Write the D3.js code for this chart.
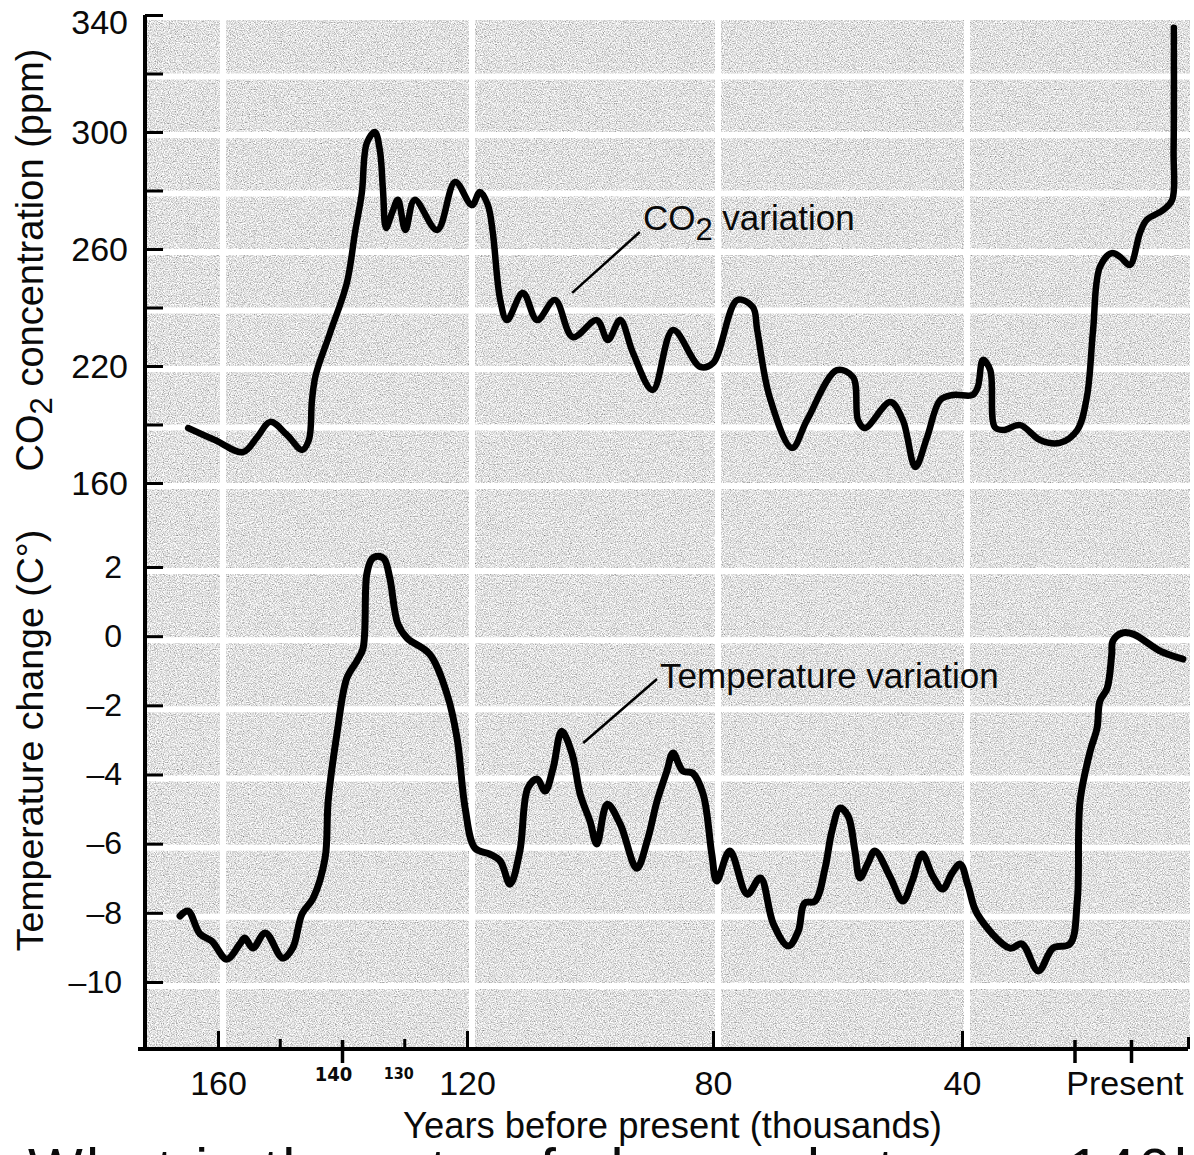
<!DOCTYPE html>
<html>
<head>
<meta charset="utf-8">
<script src="https://cdn.jsdelivr.net/npm/d3@7"></script>
<style>
html, body { margin: 0; padding: 0; background: #ffffff; }
svg { display: block; }
text { font-family: "Liberation Sans", Arial, Helvetica, sans-serif; fill: #0a0a0a; }
</style>
</head>
<body>
<svg id="chart" width="1194" height="1155"></svg>
<script>
// ---------- DATA ----------
// Years before present (thousands) and CO2 (ppm)
const co2Years = [
  164.8, 160.5, 156.0, 153.7, 151.6, 148.9, 146.5, 145.4, 144.9, 144.3,
  142.0, 139.3, 138.0, 136.9, 136.1, 134.8, 134.0, 133.5, 133.0, 132.0,
  131.1, 129.9, 128.4, 124.8, 121.9, 119.2, 117.9, 116.6, 115.8, 114.6,
  113.5, 110.9, 108.6, 105.7, 102.8, 98.9, 97.1, 95.1, 93.0, 89.8,
  86.5, 82.1, 80.0, 76.1, 73.6, 72.9, 70.9, 67.3, 64.9, 60.1,
  57.5, 56.7, 55.6, 51.5, 49.5, 47.5, 45.6, 43.5, 41.4, 38.1,
  37.2, 36.3, 35.0, 34.2, 32.7, 29.7, 26.2, 22.7, 19.6, 17.9,
  16.8, 15.6, 13.5, 12.0, 10.3, 8.5, 7.3, 4.4, 2.8, 2.55,
  2.5
];
const co2Values = [
  198.8, 194.7, 190.6, 195.7, 200.9, 196.4, 191.3, 194.7, 208.4, 216.9,
  231.3, 248.4, 265.5, 279.1, 296.2, 300.0, 293.8, 280.2, 267.2, 272.6,
  276.8, 266.5, 276.8, 266.5, 282.9, 275.0, 279.5, 275.0, 265.5, 242.6,
  235.7, 245.0, 235.7, 242.6, 229.9, 235.7, 228.9, 235.7, 224.4, 211.8,
  232.3, 219.7, 221.0, 242.6, 240.2, 232.3, 209.4, 192.0, 201.5, 218.6,
  216.2, 201.5, 198.8, 207.7, 201.5, 185.5, 195.7, 208.4, 210.1, 210.1,
  212.8, 222.1, 218.6, 199.1, 198.1, 199.8, 194.7, 193.7, 198.1, 209.4,
  232.3, 253.8, 258.6, 257.3, 254.5, 265.5, 270.0, 273.3, 276.8, 293.8,
  335.6
];
// Years before present (thousands) and temperature change (C)
const tempYears = [
  166.1, 164.8, 162.9, 161.0, 158.6, 156.5, 155.7, 154.4, 152.4, 149.6,
  148.0, 146.5, 144.7, 142.8, 142.3, 140.9, 139.3, 137.7, 136.7, 136.1,
  135.3, 134.3, 133.3, 132.4, 131.1, 129.6, 126.0, 123.2, 121.6, 120.3,
  118.7, 116.3, 114.6, 113.0, 111.4, 110.1, 108.6, 107.3, 106.0, 104.6,
  102.9, 101.6, 100.0, 98.9, 97.2, 95.1, 92.4, 90.7, 89.1, 87.5,
  86.5, 84.9, 83.3, 81.6, 80.2, 79.4, 77.3, 74.5, 72.4, 70.3,
  67.9, 66.3, 65.3, 63.6, 62.0, 60.9, 59.6, 58.3, 57.2, 56.4,
  55.1, 54.0, 51.6, 49.5, 48.0, 46.4, 44.7, 43.1, 41.6, 40.3,
  38.9, 37.3, 31.5, 29.4, 26.5, 23.9, 20.9, 19.6, 19.1, 17.3,
  16.1, 15.6, 14.3, 13.5, 13.3, 11.7, 9.7, 4.9, 0.9
];
const tempValues = [
  -8.09, -7.95, -8.61, -8.82, -9.34, -8.90, -8.73, -9.02, -8.58, -9.31,
  -9.02, -8.03, -7.57, -6.42, -4.77, -2.83, -1.21, -0.72, -0.35, 1.79,
  2.23, 2.31, 2.23, 1.68, 0.35, -0.06, -0.52, -1.68, -2.95, -4.97,
  -6.13, -6.30, -6.50, -7.17, -6.21, -4.39, -4.13, -4.48, -3.82, -2.75,
  -3.41, -4.57, -5.35, -6.01, -4.86, -5.43, -6.71, -5.92, -4.77, -3.90,
  -3.38, -3.90, -3.96, -4.57, -6.30, -7.08, -6.21, -7.46, -6.99, -8.32,
  -8.96, -8.53, -7.72, -7.66, -6.71, -5.64, -4.97, -5.20, -6.21, -6.99,
  -6.56, -6.21, -6.94, -7.66, -7.08, -6.30, -6.94, -7.31, -6.85, -6.59,
  -7.23, -8.03, -9.02, -8.90, -9.68, -9.02, -8.90, -7.66, -4.77, -3.32,
  -2.66, -1.88, -1.50, -0.52, -0.14, 0.09, 0.06, -0.43, -0.66
];

// Axis ticks and labels
const xTickValues = [160, 120, 80, 40, 0];
const xTickLabels = ["160", "120", "80", "40", "Present"];
const xMinorTicks = [150, 130];
const xCrossTicks = [140, 20, 10];
const handNoteYears = [140, 130];
const handNoteLabels = ["140", "130"];
const co2TickValues = [340, 320, 300, 280, 260, 240, 220, 200, 180];
const co2LabelValues = [340, 300, 260, 220, 180];
const co2Labels = ["340", "300", "260", "220", "160"];
const tempTickValues = [2, 0, -2, -4, -6, -8, -10];
const tempLabels = ["2", "0", "\u20132", "\u20134", "\u20136", "\u20138", "\u201310"];

// Annotation anchors in data units
const co2Note = { text: "CO", sub: "2", rest: " variation", yr: 91.4, v: 266.5,
                  lineFrom: [102.9, 245.0], lineTo: [91.9, 265.8] };
const tempNote = { text: "Temperature variation", yr: 88.6, v: -1.50,
                   lineFrom: [101.1, -3.09], lineTo: [89.1, -1.24] };

// ---------- SCALES ----------
const svg = d3.select("#chart");
const x = d3.scaleLinear().domain(xTickValues).range([218, 467, 713, 962, 1188]);
const yCO2 = d3.scaleLinear().domain([340, 180]).range([15, 483]);
const yT = d3.scaleLinear().domain([2, -10]).range([567, 982]);

const axisX = 145;
const axisY = 1049;
const plotRight = 1190;
const FONT = "Liberation Sans, Arial, sans-serif";

// ---------- BACKGROUND (grainy gray with white grid) ----------
const defs = svg.append("defs");
const f = defs.append("filter").attr("id", "grain")
  .attr("x", 0).attr("y", 0).attr("width", 1).attr("height", 1)
  .attr("filterUnits", "objectBoundingBox");
f.append("feTurbulence").attr("type", "fractalNoise")
  .attr("baseFrequency", 0.85).attr("numOctaves", 2).attr("seed", 7).attr("result", "n");
f.append("feColorMatrix").attr("type", "matrix")
  .attr("values", "1.4 0 0 0 0.05  1.4 0 0 0 0.05  1.4 0 0 0 0.05  0 0 0 0 1");

const plotTop = yCO2(340) + 5;
svg.append("rect")
  .attr("x", axisX + 2).attr("y", plotTop)
  .attr("width", plotRight - axisX - 2).attr("height", axisY - 2 - plotTop)
  .attr("fill", "#c2c2c2")
  .attr("filter", "url(#grain)");

const grid = svg.append("g").attr("stroke", "#ffffff").attr("stroke-width", 6);
grid.selectAll("line.v").data([160, 120, 80, 40]).join("line")
  .attr("x1", d => x(d) + 5).attr("x2", d => x(d) + 5)
  .attr("y1", plotTop).attr("y2", axisY - 2);
grid.selectAll("line.hc").data(co2TickValues.slice(1)).join("line")
  .attr("x1", axisX + 2).attr("x2", plotRight)
  .attr("y1", d => yCO2(d) + 3).attr("y2", d => yCO2(d) + 3);
grid.selectAll("line.ht").data(tempTickValues).join("line")
  .attr("x1", axisX + 2).attr("x2", plotRight)
  .attr("y1", d => yT(d) + 4).attr("y2", d => yT(d) + 4);

// ---------- AXES ----------
svg.append("line")
  .attr("x1", axisX).attr("x2", axisX)
  .attr("y1", yCO2(340)).attr("y2", axisY + 1)
  .attr("stroke", "#000").attr("stroke-width", 4);

const co2LabelMap = new Map(co2LabelValues.map((v, i) => [v, co2Labels[i]]));
const gCO2 = svg.append("g").attr("transform", `translate(${axisX},0)`)
  .call(d3.axisLeft(yCO2).tickValues(co2TickValues).tickSize(-18).tickPadding(17)
    .tickFormat(d => co2LabelMap.get(d) || ""));
gCO2.select(".domain").remove();
gCO2.selectAll(".tick line").attr("stroke", "#000").attr("stroke-width", 3);
gCO2.selectAll(".tick text").attr("font-size", 34).attr("fill", "#0a0a0a")
  .attr("font-family", FONT)
  .attr("y", d => d === 340 ? 8 : 1);

const gT = svg.append("g").attr("transform", `translate(${axisX},0)`)
  .call(d3.axisLeft(yT).tickValues(tempTickValues).tickSize(-18).tickPadding(23)
    .tickFormat((d, i) => tempLabels[i]));
gT.select(".domain").remove();
gT.selectAll(".tick line").attr("stroke", "#000").attr("stroke-width", 3);
gT.selectAll(".tick text").attr("font-size", 32).attr("fill", "#0a0a0a")
  .attr("font-family", FONT);

svg.append("line")
  .attr("x1", axisX - 7).attr("x2", x(0))
  .attr("y1", axisY).attr("y2", axisY)
  .attr("stroke", "#000").attr("stroke-width", 4);

const gX = svg.append("g").attr("transform", `translate(0,${axisY})`)
  .call(d3.axisBottom(x).tickValues(xTickValues).tickSize(-18).tickPadding(22)
    .tickFormat((d, i) => xTickLabels[i]));
gX.select(".domain").remove();
gX.selectAll(".tick line").attr("stroke", "#000").attr("stroke-width", 3)
  .attr("y2", d => d === 0 ? -12 : -18);
gX.selectAll(".tick text").attr("font-size", 34).attr("fill", "#0a0a0a")
  .attr("font-family", FONT)
  .attr("text-anchor", d => d === 0 ? "end" : "middle")
  .attr("dx", d => d === 0 ? -5 : 0);

svg.append("g").selectAll("line").data(xMinorTicks).join("line")
  .attr("x1", d => x(d)).attr("x2", d => x(d))
  .attr("y1", axisY).attr("y2", axisY - 10)
  .attr("stroke", "#000").attr("stroke-width", 3);
svg.append("g").selectAll("line").data(xCrossTicks).join("line")
  .attr("x1", d => x(d)).attr("x2", d => x(d))
  .attr("y1", axisY - 9).attr("y2", axisY + 14)
  .attr("stroke", "#000").attr("stroke-width", 3.5);

// handwritten notes under the axis
svg.append("g").selectAll("text").data(handNoteYears).join("text")
  .attr("x", d => x(d)).attr("dx", (d, i) => i === 0 ? -9 : -6)
  .attr("y", (d, i) => i === 0 ? axisY + 32 : axisY + 30)
  .attr("text-anchor", "middle")
  .attr("font-size", (d, i) => i === 0 ? 20 : 16)
  .attr("font-weight", "bold")
  .style("font-family", "DejaVu Sans Condensed, DejaVu Sans, sans-serif")
  .text((d, i) => handNoteLabels[i]);

// axis titles
const co2Title = svg.append("text")
  .attr("transform", `translate(43,${(yCO2(340) + yCO2(180)) / 2 + 11}) rotate(-90)`)
  .attr("text-anchor", "middle").attr("font-size", 38);
co2Title.append("tspan").text("CO");
co2Title.append("tspan").attr("font-size", 31).attr("dy", 9).text("2");
co2Title.append("tspan").attr("dy", -9).text(" concentration (ppm)");

svg.append("text")
  .attr("transform", `translate(43,${(yT(2) + yT(-10)) / 2 - 34}) rotate(-90)`)
  .attr("text-anchor", "middle").attr("font-size", 37.5)
  .text("Temperature change (C\u00B0)");

svg.append("text")
  .attr("x", (x(120) + x(40)) / 2 - 42).attr("y", 1138)
  .attr("text-anchor", "middle").attr("font-size", 36)
  .attr("textLength", 539).attr("lengthAdjust", "spacingAndGlyphs")
  .text("Years before present (thousands)");

// ---------- SERIES ----------
const co2Data = co2Years.map((yr, i) => ({ yr, v: co2Values[i] }));
const tempData = tempYears.map((yr, i) => ({ yr, v: tempValues[i] }));

const co2Line = d3.line().x(d => x(d.yr)).y(d => yCO2(d.v)).curve(d3.curveCatmullRom.alpha(0.5));
const tempLine = d3.line().x(d => x(d.yr)).y(d => yT(d.v)).curve(d3.curveCatmullRom.alpha(0.5));

svg.append("path").datum(co2Data).attr("d", co2Line)
  .attr("fill", "none").attr("stroke", "#000").attr("stroke-width", 6.5)
  .attr("stroke-linejoin", "round").attr("stroke-linecap", "round");
svg.append("path").datum(tempData).attr("d", tempLine)
  .attr("fill", "none").attr("stroke", "#000").attr("stroke-width", 7)
  .attr("stroke-linejoin", "round").attr("stroke-linecap", "round");

// ---------- ANNOTATIONS ----------
svg.append("line")
  .attr("x1", x(co2Note.lineFrom[0])).attr("y1", yCO2(co2Note.lineFrom[1]))
  .attr("x2", x(co2Note.lineTo[0])).attr("y2", yCO2(co2Note.lineTo[1]))
  .attr("stroke", "#000").attr("stroke-width", 2.5);
const co2Lbl = svg.append("text")
  .attr("x", x(co2Note.yr)).attr("y", yCO2(co2Note.v)).attr("font-size", 35);
co2Lbl.append("tspan").text(co2Note.text);
co2Lbl.append("tspan").attr("font-size", 31).attr("dy", 10).text(co2Note.sub);
co2Lbl.append("tspan").attr("dy", -10).text(co2Note.rest);

svg.append("line")
  .attr("x1", x(tempNote.lineFrom[0])).attr("y1", yT(tempNote.lineFrom[1]))
  .attr("x2", x(tempNote.lineTo[0])).attr("y2", yT(tempNote.lineTo[1]))
  .attr("stroke", "#000").attr("stroke-width", 2.5);
svg.append("text")
  .attr("x", x(tempNote.yr)).attr("y", yT(tempNote.v)).attr("font-size", 35)
  .text(tempNote.text);

// cut-off caption at the very bottom of the page (only its top shows, as in the source)
svg.append("text")
  .attr("x", 28).attr("y", 1189).attr("font-size", 58)
  .attr("textLength", 1175).attr("lengthAdjust", "spacing")
  .text("What is the rate of change between 140k");
</script>
</body>
</html>
